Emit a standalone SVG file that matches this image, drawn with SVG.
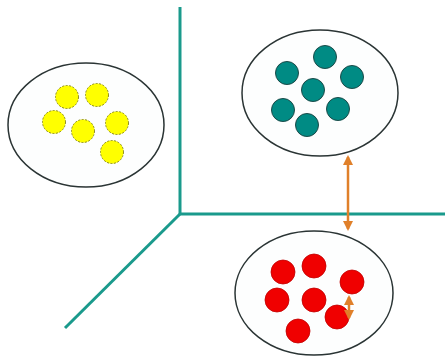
<svg xmlns="http://www.w3.org/2000/svg" width="445" height="358" viewBox="0 0 445 358">
<defs>
<style>
.axis{stroke:#1a9a8c;stroke-width:3;fill:none;stroke-linecap:butt}
.cluster{fill:#fdfefe;stroke:#2a3434;stroke-width:1.5}
.y{fill:#ffff00;stroke:#8a8a20;stroke-width:1;stroke-dasharray:2 1.5}
.t{fill:#008b84;stroke:#1c4a48;stroke-width:1}
.r{fill:#f00000;stroke:#c00000;stroke-width:0.8}
.arr{stroke:#e0802a;stroke-width:2.5;fill:none}
</style>
<marker id="ah" viewBox="0 0 10 10" refX="8" refY="5" markerWidth="4" markerHeight="4" orient="auto-start-reverse">
<path d="M0,0 L10,5 L0,10 z" fill="#e0802a"/>
</marker>
</defs>
<rect width="445" height="358" fill="#ffffff"/>
<g id="connectors">
<line class="axis" x1="180" y1="7" x2="180" y2="215"/>
<line class="axis" x1="179" y1="214" x2="445" y2="214"/>
<line class="axis" x1="180" y1="214" x2="65" y2="328"/>
<line class="arr" x1="348" y1="157" x2="348" y2="229" marker-start="url(#ah)" marker-end="url(#ah)"/>
</g>
<g id="yellow-cluster">
<ellipse class="cluster" cx="86" cy="125" rx="78" ry="62"/>
<circle class="y" cx="67" cy="97" r="11.5"/>
<circle class="y" cx="97" cy="95" r="11.5"/>
<circle class="y" cx="54" cy="122" r="11.5"/>
<circle class="y" cx="83" cy="131" r="11.5"/>
<circle class="y" cx="117" cy="123" r="11.5"/>
<circle class="y" cx="112" cy="152" r="11.5"/>
</g>
<g id="teal-cluster">
<ellipse class="cluster" cx="320" cy="93" rx="78" ry="63"/>
<circle class="t" cx="325" cy="57" r="11.5"/>
<circle class="t" cx="287" cy="73" r="11.5"/>
<circle class="t" cx="352" cy="77" r="11.5"/>
<circle class="t" cx="313" cy="90" r="11.5"/>
<circle class="t" cx="283" cy="110" r="11.5"/>
<circle class="t" cx="338" cy="109" r="11.5"/>
<circle class="t" cx="307" cy="125" r="11.5"/>
</g>
<g id="red-cluster">
<ellipse class="cluster" cx="314" cy="293" rx="79" ry="62"/>
<circle class="r" cx="283" cy="272" r="12"/>
<circle class="r" cx="314" cy="266" r="12"/>
<circle class="r" cx="352" cy="282" r="12"/>
<circle class="r" cx="277" cy="300" r="12"/>
<circle class="r" cx="314" cy="300" r="12"/>
<circle class="r" cx="337" cy="317" r="12"/>
<circle class="r" cx="298" cy="331" r="12"/>
<line class="arr" x1="349" y1="297" x2="349" y2="318" stroke-width="1.8" marker-start="url(#ah)" marker-end="url(#ah)"/>
</g>
</svg>
